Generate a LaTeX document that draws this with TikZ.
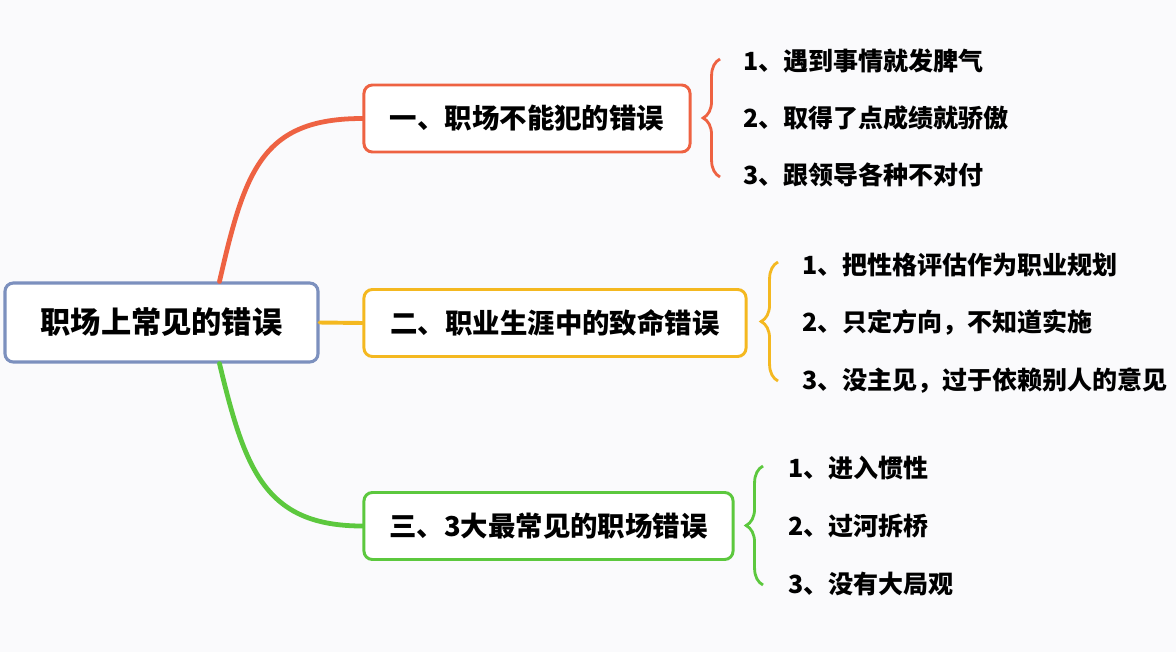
\documentclass[tikz,border=0pt]{standalone}
\usepackage{fontspec}
\setmainfont{Noto Sans CJK SC}
\usetikzlibrary{calc,decorations.pathreplacing}
\definecolor{rootblue}{RGB}{124,144,190}
\definecolor{topicred}{RGB}{238,98,66}
\definecolor{topicyellow}{RGB}{244,184,32}
\definecolor{topicgreen}{RGB}{92,200,62}
\definecolor{paper}{RGB}{250,250,252}

\begin{document}
\begin{tikzpicture}[x=0.025cm, y=-0.025cm,
      rootbox/.style={draw=rootblue, line width=2.2pt, rounded corners=6pt, fill=white,
                      minimum width=7.825cm, minimum height=1.975cm,
                      font=\bfseries\fontsize{21.5}{26}\selectfont},
      topicbox/.style={line width=2.1pt, rounded corners=6pt, fill=white,
                       minimum height=1.675cm,
                       font=\bfseries\fontsize{19.5}{23}\selectfont},
      leaf/.style={anchor=west, inner sep=0pt,
                   font=\bfseries\fontsize{17.8}{21}\selectfont},
      link/.style={line width=3.4pt, line cap=round},
      curl/.style={line width=2pt, decorate,
                   decoration={brace, amplitude=12pt}}
    ]
    \fill[paper] (0,0) rectangle (1176,652);
    \useasboundingbox (0,0) rectangle (1176,652);

    \node[rootbox] (root) at (161.5,322.5) {职场上常见的错误};

    \node[topicbox, draw=topicred, minimum width=8.15cm] (t1) at (527,118.5)
          {一、职场不能犯的错误};
    \node[topicbox, draw=topicyellow, minimum width=9.55cm] (t2) at (555,323)
          {二、职业生涯中的致命错误};
    \node[topicbox, draw=topicgreen, minimum width=9.225cm] (t3) at (548.5,526)
          {三、3大最常见的职场错误};

    % branches
    \draw[link, topicred] ($(root.north)+(58,0)$)
      .. controls (245,170) and (262,118.5) .. (t1.west);
    \draw[link, topicyellow, line width=2.8pt] (root.east) -- (t2.west);
    \draw[link, topicgreen] ($(root.south)+(58,0)$)
      .. controls (245,470) and (265,526) .. (t3.west);

    % braces
    \coordinate (c1top) at (720,59);
    \coordinate (c1bot) at (720,177);
    \coordinate (c2top) at (778,262);
    \coordinate (c2bot) at (778,381);
    \coordinate (c3top) at (763,466);
    \coordinate (c3bot) at (763,585);
    \draw[curl, topicred] (c1bot) -- (c1top);
    \draw[curl, topicyellow] (c2bot) -- (c2top);
    \draw[curl, topicgreen] (c3bot) -- (c3top);

    \node[leaf] (t1a) at (743,61) {1、遇到事情就发脾气};
    \node[leaf] (t1b) at (743,118) {2、取得了点成绩就骄傲};
    \node[leaf] (t1c) at (743,175) {3、跟领导各种不对付};

    \node[leaf] (t2a) at (802,265) {1、把性格评估作为职业规划};
    \node[leaf] (t2b) at (802,323) {2、只定方向，不知道实施};
    \node[leaf] (t2c) at (802,381) {3、没主见，过于依赖别人的意见};

    \node[leaf] (t3a) at (788,468) {1、进入惯性};
    \node[leaf] (t3b) at (788,526) {2、过河拆桥};
    \node[leaf] (t3c) at (788,584) {3、没有大局观};
  \end{tikzpicture}
\end{document}
